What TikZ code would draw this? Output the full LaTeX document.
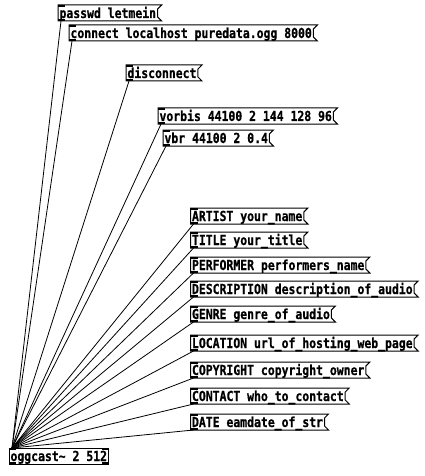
\documentclass[tikz,border=0pt]{standalone}
\usepackage{fontspec}
\newfontfamily\pdfnt[FakeStretch=0.83,FakeBold=0.6]{DejaVu Sans Mono}
\tikzset{
  msg/.style={anchor=north west, inner xsep=1.5pt, inner ysep=0pt, outer sep=0pt,
    minimum height=16pt, text height=11pt, text depth=1pt,
    font=\fontsize{13.8pt}{13.8pt}\pdfnt\bfseries},
  box/.style={draw, line width=1pt, line join=miter},
  cord/.style={line width=0.8pt},
}
\newcommand\pdmsg[4]{%
  \node[msg] (#1) at (#2,#3) {#4};
  \draw[box] (#1.north west) -- ([xshift=4pt]#1.north east) -- ([yshift=-4pt]#1.north east)
    -- ([yshift=4pt]#1.south east) -- ([xshift=4pt]#1.south east) -- (#1.south west) -- cycle;
  \fill (#1.north west) rectangle ++(7,2);
  \fill (#1.south west) rectangle ++(7,-2);
}
\begin{document}
\begin{tikzpicture}[x=1pt,y=-1pt]
\useasboundingbox[fill=white] (0,0) rectangle (425,476);
\pdmsg{pw}{58}{5}{passwd letmein}
\pdmsg{con}{69}{25}{connect localhost puredata.ogg 8000}
\pdmsg{dis}{126}{65}{disconnect}
\pdmsg{vor}{158}{108}{vorbis 44100 2 144 128 96}
\pdmsg{vbr}{163}{130}{vbr 44100 2 0.4}
\pdmsg{art}{190.5}{208}{ARTIST your\_name}
\pdmsg{tit}{190.5}{232}{TITLE your\_title}
\pdmsg{per}{190.5}{257}{PERFORMER performers\_name}
\pdmsg{des}{190.5}{281}{DESCRIPTION description\_of\_audio}
\pdmsg{gen}{190.5}{306}{GENRE genre\_of\_audio}
\pdmsg{loc}{190.5}{335}{LOCATION url\_of\_hosting\_web\_page}
\pdmsg{cop}{190.5}{362}{COPYRIGHT copyright\_owner}
\pdmsg{cnt}{190.5}{388}{CONTACT who\_to\_contact}
\pdmsg{dat}{190.5}{414}{DATE eamdate\_of\_str}
\node[msg, draw, line width=1pt] (ogg) at (9,448) {oggcast\textasciitilde{} 2 512};
\fill (ogg.north west) rectangle ++(7,2);
\fill (ogg.north east) rectangle ++(-7,2);
\fill (ogg.south west) rectangle ++(7,-2);
\fill (ogg.south east) rectangle ++(-7,-2);
\coordinate (in) at ([xshift=3pt]ogg.north west);
\foreach \m in {pw,con,dis,vor,vbr,art,tit,per,des,gen,loc,cop,cnt,dat}
  \draw[cord] ([xshift=3pt]\m.south west) -- (in);
\end{tikzpicture}
\end{document}
